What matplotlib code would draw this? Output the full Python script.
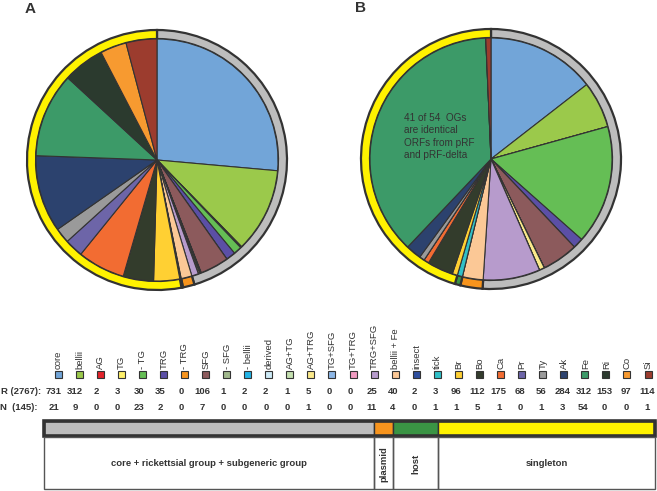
import numpy as np
import matplotlib
matplotlib.use('Agg')
import matplotlib.pyplot as plt
from matplotlib.patches import Rectangle

plt.rcParams['font.family'] = ['Liberation Sans', 'DejaVu Sans']

# ---------------------------------------------------------------------------
# data
# ---------------------------------------------------------------------------
categories = ['core', 'bellii', 'AG', 'TG', '- TG', 'TRG', '- TRG', 'SFG', '- SFG',
              '- bellii', 'derived', 'AG+TG', 'AG+TRG', 'TG+SFG', 'TG+TRG', 'TRG+SFG',
              'bellii + Fe', 'insect', 'tick', 'Br', 'Bo', 'Ca', 'Pr', 'Ty', 'Ak',
              'Fe', 'Ri', 'Co', 'Si']
r_counts = [731, 312, 2, 3, 30, 35, 0, 106, 1, 2, 2, 1, 5, 0, 0, 25,
            40, 2, 3, 96, 112, 175, 68, 56, 284, 312, 153, 97, 114]
n_counts = [21, 9, 0, 0, 23, 2, 0, 7, 0, 0, 0, 0, 1, 0, 0, 11,
            4, 0, 1, 1, 5, 1, 0, 1, 3, 54, 0, 0, 1]
colors = ['#72a5d8', '#9bc94b', '#e2232a', '#fff06a', '#65be55', '#5b4fa6', '#f7941d',
          '#8c5a5c', '#a0b88c', '#23b4e6', '#cdeaf6', '#c5e0b0', '#fbe98a', '#8db7e6',
          '#f09ac0', '#b79bcc', '#fbc896', '#2f4f9e', '#30c0c8', '#ffd033', '#333c2c',
          '#f26c32', '#6d65a8', '#9a9a9a', '#2c426e', '#3c9a68', '#2b3a2e', '#f79a30',
          '#9c3c2e']

# category groups (outer ring / bottom bar)
group_names = ['core + rickettsial group + subgeneric group', 'plasmid', 'host', 'singleton']
group_sizes = [16, 1, 2, 10]          # number of categories in each group
group_colors = ['#bdbdbd', '#f7941d', '#3a9444', '#fff200']

EDGE = '#333333'
TXT = '#333333'

# ---------------------------------------------------------------------------
# figure: one axes, 1 data unit = 1 pixel, y measured from the top
# ---------------------------------------------------------------------------
W, H = 657, 491
fig = plt.figure(figsize=(W / 100, H / 100), dpi=100)
ax = fig.add_axes([0, 0, 1, 1])


def Y(y):
    return H - y


def group_totals(vals):
    out, i = [], 0
    for s in group_sizes:
        out.append(sum(vals[i:i + s]))
        i += s
    return out


def draw_pie(vals, cx, cy):
    c = (cx, Y(cy))
    # outer ring coloured by group
    ax.pie(group_totals(vals), colors=group_colors, radius=130, center=c,
           startangle=90, counterclock=False, frame=True,
           wedgeprops=dict(width=9, edgecolor=EDGE, linewidth=1.6))
    ax.pie(vals, colors=colors, radius=121, center=c,
           startangle=90, counterclock=False, frame=True,
           wedgeprops=dict(edgecolor=EDGE, linewidth=0.8))


draw_pie(r_counts, 157, 160)
draw_pie(n_counts, 491, 159)

ax.text(25, Y(9), 'A', fontsize=11, fontweight='bold', color=TXT, va='center')
ax.text(355, Y(8), 'B', fontsize=11, fontweight='bold', color=TXT, va='center')
ax.text(404, Y(113), '41 of 54  OGs\nare identical\nORFs from pRF\nand pRF-delta',
        fontsize=7.2, color=TXT, va='top', ha='left', linespacing=1.3)

# ---------------------------------------------------------------------------
# legend with counts
# ---------------------------------------------------------------------------
num_x = np.linspace(54, 647, len(categories))
sq_x = np.linspace(58, 648, len(categories))
for i, cat in enumerate(categories):
    ax.add_patch(Rectangle((sq_x[i] - 3.5, Y(377.5)), 7, 7, facecolor=colors[i],
                           edgecolor=EDGE, linewidth=0.8))
    ax.text(sq_x[i] + 0.5, Y(369), cat, rotation=90, ha='center', va='bottom',
            fontsize=6.8, color=TXT)
    ax.text(num_x[i], Y(392), str(r_counts[i]), ha='center', va='center',
            fontsize=6.8, color=TXT, fontweight='bold')
    ax.text(num_x[i], Y(408), str(n_counts[i]), ha='center', va='center',
            fontsize=6.8, color=TXT, fontweight='bold')

ax.text(1, Y(392), 'R (2767):', ha='left', va='center', fontsize=6.8, color=TXT,
        fontweight='bold')
ax.text(37, Y(408), 'N  (145):', ha='right', va='center', fontsize=6.8, color=TXT,
        fontweight='bold')

# ---------------------------------------------------------------------------
# group bar and table
# ---------------------------------------------------------------------------
bounds = [44, 374, 393, 438, 655]
for j in range(len(group_names)):
    ax.add_patch(Rectangle((bounds[j], Y(436)), bounds[j + 1] - bounds[j], 15,
                           facecolor=group_colors[j], edgecolor=EDGE, linewidth=1.0))
ax.add_patch(Rectangle((bounds[0], Y(436)), bounds[-1] - bounds[0], 15,
                       facecolor='none', edgecolor=EDGE, linewidth=2.6))

for j, name in enumerate(group_names):
    ax.add_patch(Rectangle((bounds[j], Y(489)), bounds[j + 1] - bounds[j], 52,
                           facecolor='none', edgecolor='#555555', linewidth=1.0))
    xm = (bounds[j] + bounds[j + 1]) / 2
    rot = 90 if name in ('plasmid', 'host') else 0
    ax.text(xm, Y(464), name, rotation=rot, ha='center', va='center',
            fontsize=6.8, color=TXT, fontweight='bold')

ax.set_xlim(0, W)
ax.set_ylim(0, H)
ax.set_aspect('equal')
ax.axis('off')

fig.savefig('out.png', dpi=100)
